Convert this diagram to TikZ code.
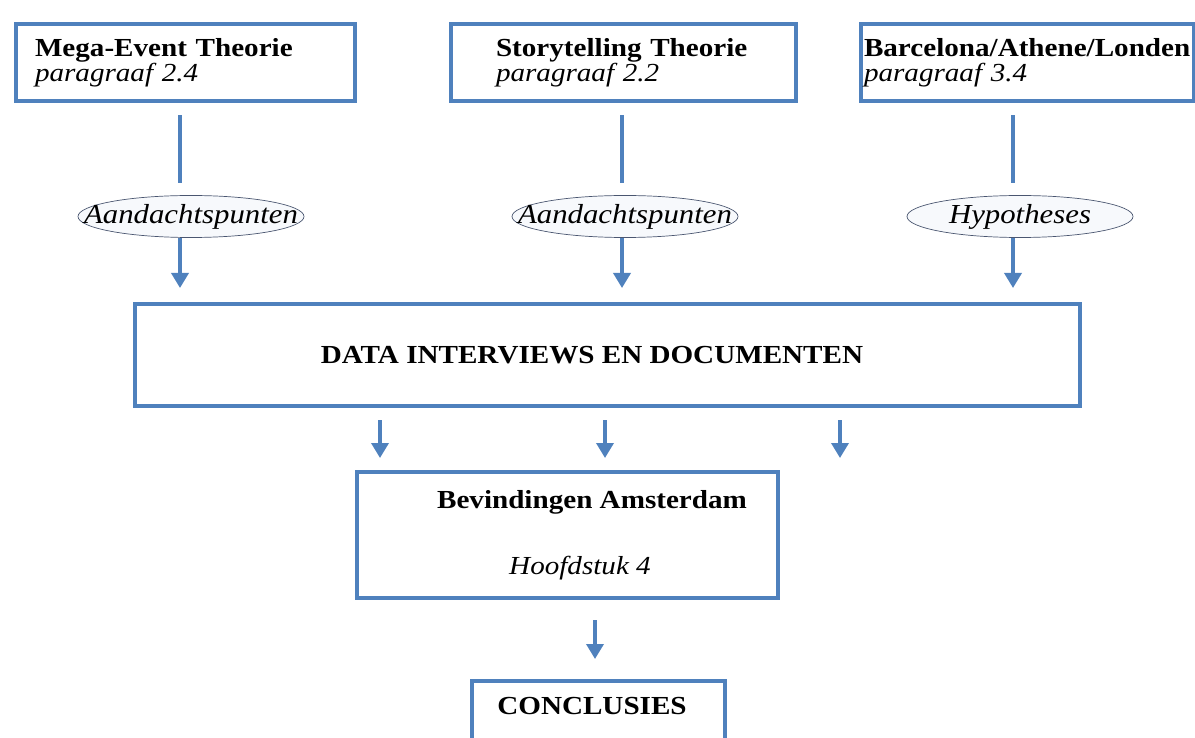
\documentclass[tikz,border=0pt]{standalone}
\usepackage{fontspec}
\setmainfont{Liberation Serif}[FakeStretch=1.12]
\usetikzlibrary{shapes.geometric,arrows.meta}
\definecolor{boxblue}{HTML}{4F81BD}
\definecolor{rimgrey}{HTML}{4A5670}
\definecolor{ovalfill}{HTML}{F7F9FC}
\begin{document}
\begin{tikzpicture}[x=1pt,y=-1pt,
    every node/.style={font=\fontsize{26}{25}\selectfont},
    theory/.style={draw=boxblue,line width=4pt,align=left,minimum height=77pt,inner ysep=0pt},
    block/.style={draw=boxblue,line width=4pt,align=center,inner sep=0pt},
    oval/.style={ellipse,draw=rimgrey,line width=0.7pt,fill=ovalfill,minimum width=226pt,
      minimum height=42pt,inner xsep=-28pt,inner ysep=0pt,font=\fontsize{27.5}{25}\selectfont\itshape},
    link/.style={boxblue,line width=3.5pt},
    arrow/.style={boxblue,line width=3.5pt,-{Triangle[width=17pt,length=15pt]}}]
  \useasboundingbox (0,0) rectangle (1195,738);
  \draw
    (185.5,63) node[theory,inner xsep=19pt,text width=301pt] (mega){\textbf{Mega-Event Theorie}\\\textit{paragraaf 2.4}}
    (623.5,63) node[theory,inner xsep=45pt,text width=255pt] (story){\textbf{Storytelling Theorie}\\\textit{paragraaf 2.2}}
    (1027.5,63) node[theory,inner xsep=3pt,text width=327pt] (cities){\textbf{Barcelona/Athene/Londen}\\\textit{paragraaf 3.4}}
    (191,216.5) node[oval] (aand1){Aandachtspunten}
    (625,216.5) node[oval] (aand2){Aandachtspunten}
    (1020,216.5) node[oval] (hypo){Hypotheses}
    (607.5,355) node[block,minimum width=945pt,minimum height=102pt] (data){\hspace*{-31pt}\textbf{DATA INTERVIEWS EN DOCUMENTEN}}
    (567.5,535) node[block,minimum width=421pt,minimum height=126pt] (findings){\hspace*{49pt}\textbf{Bevindingen Amsterdam}\\[41pt]\hspace*{25pt}\textit{Hoofdstuk 4}}
    (598.5,679) node[block,anchor=north,minimum width=253pt,minimum height=66pt,text depth=16pt] (concl){\hspace*{-13pt}\textbf{CONCLUSIES}};
  \begin{scope}[link,shorten <=12pt,shorten >=12pt]
    \draw ([xshift=-5.5pt]mega.south) -- ([xshift=-5.5pt]mega.south |- aand1.north);
    \draw ([xshift=-1.5pt]story.south) -- ([xshift=-1.5pt]story.south |- aand2.north);
    \draw ([xshift=-14.5pt]cities.south) -- ([xshift=-14.5pt]cities.south |- hypo.north);
  \end{scope}
  \begin{scope}[arrow,shorten >=14pt]
    \draw ([xshift=-11pt]aand1.south) -- ([xshift=-11pt]aand1.south |- data.north);
    \draw ([xshift=-3pt]aand2.south) -- ([xshift=-3pt]aand2.south |- data.north);
    \draw ([xshift=-7pt]hypo.south) -- ([xshift=-7pt]hypo.south |- data.north);
  \end{scope}
  \begin{scope}[arrow,shorten <=12pt,shorten >=12pt]
    \draw ([xshift=-227.5pt]data.south) -- ([xshift=-227.5pt]data.south |- findings.north);
    \draw ([xshift=-2.5pt]data.south) -- ([xshift=-2.5pt]data.south |- findings.north);
    \draw ([xshift=232.5pt]data.south) -- ([xshift=232.5pt]data.south |- findings.north);
  \end{scope}
  \draw[arrow,shorten <=20pt,shorten >=20pt] ([xshift=27.5pt]findings.south) -- ([xshift=27.5pt]findings.south |- concl.north);
\end{tikzpicture}
\end{document}
